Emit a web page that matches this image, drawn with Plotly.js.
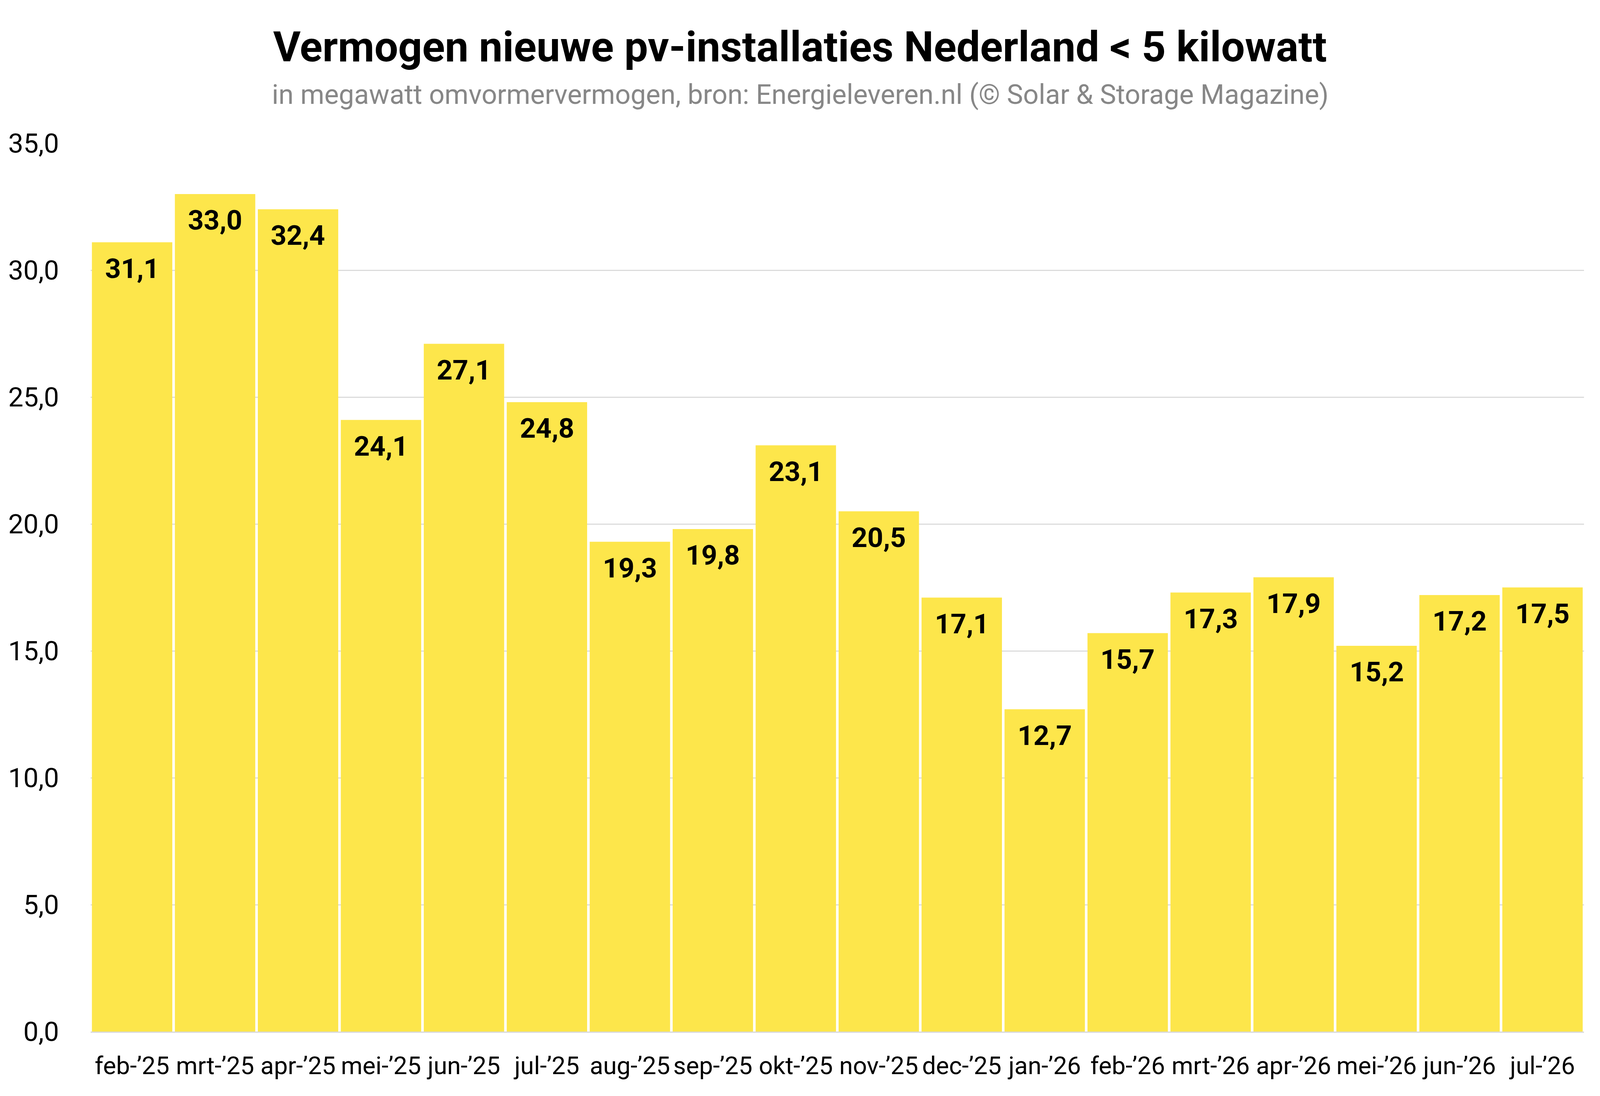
<!DOCTYPE html>
<html>
<head>
<meta charset="utf-8">
<script src="https://cdn.plot.ly/plotly-3.0.1.min.js"></script>
<style>
  html, body { margin: 0; padding: 0; background: #fff; overflow: hidden; }
  #chart { width: 100vw; height: 100vh; }
</style>
</head>
<body>
<div id="chart"></div>
<script>
// ── Data ─────────────────────────────────────────────────────────────
const months = [
    'feb-’25', 'mrt-’25', 'apr-’25', 'mei-’25', 'jun-’25', 'jul-’25',
    'aug-’25', 'sep-’25', 'okt-’25', 'nov-’25', 'dec-’25', 'jan-’26',
    'feb-’26', 'mrt-’26', 'apr-’26', 'mei-’26', 'jun-’26', 'jul-’26'
];
const megawatt = [
    31.1, 33.0, 32.4, 24.1, 27.1, 24.8,
    19.3, 19.8, 23.1, 20.5, 17.1, 12.7,
    15.7, 17.3, 17.9, 15.2, 17.2, 17.5
];
const yTicks = [0, 5, 10, 15, 20, 25, 30, 35];

const titleText = 'Vermogen nieuwe pv-installaties Nederland < 5 kilowatt';
const subtitleText = 'in megawatt omvormervermogen, bron: Energieleveren.nl (© Solar & Storage Magazine)';

// Dutch number style: comma as decimal separator
function nl(v) {
    return v.toFixed(1).replace('.', ',');
}

// ── Sizing ───────────────────────────────────────────────────────────
// Measurements were taken on a 4989×2807 design; the browser may give a
// narrower viewport, so horizontal and vertical distances are scaled on
// their own and font sizes get a blend that keeps the x labels apart.
const DW = 4989, DH = 2807;
const vw = window.innerWidth, vh = window.innerHeight;
const sx = vw / DW, sy = vh / DH;
const fs = sx + (sy - sx) * 0.12;

const M = {
    l: Math.round(282 * sx), r: Math.round(50 * sx),
    t: Math.round(367 * sy), b: Math.round(165 * sy)
};
const plotW = vw - M.l - M.r;
const plotH = vh - M.t - M.b;

const barTrace = {
    type: 'bar',
    x: months,
    y: megawatt,
    marker: { color: '#fde64b', line: { width: 0 } },
    hoverinfo: 'x+y'
};

// value labels sit a little below the top of each bar
const labelSize = 84 * fs;
const valueLabels = months.map((m, i) => ({
    x: m,
    y: megawatt[i],
    xref: 'x', yref: 'y',
    text: nl(megawatt[i]),
    showarrow: false,
    yanchor: 'top',
    yshift: -(40 * sy - 20 * fs),
    font: { family: 'Roboto', size: labelSize, color: '#000', weight: 'bold' }
}));

const subtitle = {
    text: subtitleText,
    xref: 'paper', yref: 'paper',
    x: (vw / 2 - M.l) / plotW,
    y: 1 + (M.t - (267 * sy - 30 * fs)) / plotH,
    xanchor: 'center', yanchor: 'middle',
    showarrow: false,
    font: { family: 'Roboto', size: 83 * fs, color: '#878787' }
};

const layout = {
    width: vw,
    height: vh,
    margin: M,
    paper_bgcolor: '#fff',
    plot_bgcolor: '#fff',
    font: { family: 'Roboto', color: '#000' },
    showlegend: false,
    bargap: 0.031,
    title: {
        text: '<b>' + titleText.replace('<', '&lt;') + '</b>',
        xref: 'container', x: 0.5, xanchor: 'center',
        yref: 'container', y: 1 - (157 * sy - 0.35 * 128 * fs) / vh, yanchor: 'middle',
        font: { family: 'Roboto', size: 128 * fs, color: '#000' }
    },
    xaxis: {
        type: 'category',
        showgrid: false,
        zeroline: false,
        showline: true,
        linecolor: '#d8d8d8',
        linewidth: 3,
        ticks: '',
        ticklabelstandoff: Math.round(28 * sy + 10 * (1 - fs)),
        tickfont: { family: 'Roboto', size: 75 * fs, color: '#000' }
    },
    yaxis: {
        range: [0, 35],
        tickmode: 'array',
        tickvals: yTicks,
        ticktext: yTicks.map(nl),
        showgrid: true,
        gridcolor: '#dcdcdc',
        gridwidth: 3,
        zeroline: false,
        showline: false,
        ticks: '',
        ticklabelstandoff: Math.round(97 * sx),
        tickfont: { family: 'Roboto', size: 82 * fs, color: '#000' }
    },
    annotations: valueLabels.concat([subtitle])
};

Plotly.newPlot('chart', [barTrace], layout, { displayModeBar: false, staticPlot: true });
</script>
</body>
</html>
